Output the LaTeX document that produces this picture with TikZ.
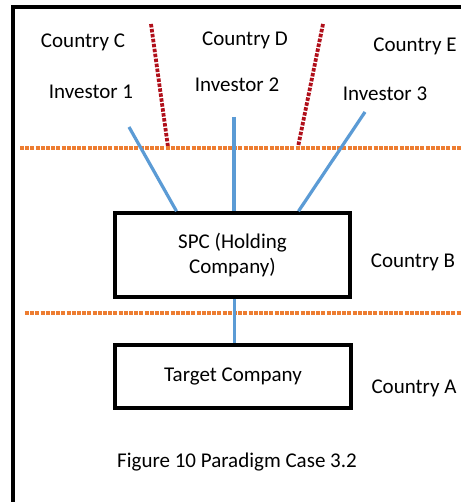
\documentclass[tikz,border=0pt]{standalone}
\usepackage{fontspec}
\setmainfont{Carlito}
\usetikzlibrary{calc}

\definecolor{invblue}{HTML}{5B9BD5}
\definecolor{bordorange}{HTML}{ED7D31}
\definecolor{bordred}{HTML}{B00F1A}

\tikzset{
	lbl/.style={font=\fontsize{21}{25}\selectfont, inner sep=0pt},
	entity/.style={draw, line width=3.6pt, font=\fontsize{21}{25}\selectfont, align=center},
	conn/.style={invblue, line width=3.2pt},
	border/.style={bordorange, line width=3.4pt, dash pattern=on 4pt off 1.2pt},
	split/.style={bordred, line width=3.8pt, dash pattern=on 3.5pt off 1.5pt}
}

\begin{document}
\begin{tikzpicture}[x=1pt,y=-1pt]
		\useasboundingbox (0,0) rectangle (461,502);
		\fill[white] (0,0) rectangle (461,502);
		
		% frame
		\draw[line width=4pt] (13,502) -- (13,7) -- (461,7);
		
		% countries above
		\node[lbl] (cC) at (83,42) {Country C};
		\node[lbl] (cD) at (245,40) {Country D};
		\node[lbl] (cE) at (415,46) {Country E};
		
		% investors
		\node[lbl] (inv1) at (91,92) {Investor 1};
		\node[lbl] (inv2) at (237,85) {Investor 2};
		\node[lbl] (inv3) at (385,94) {Investor 3};
		
		% borders between C, D and E
		\coordinate (cdtop) at (151,24);
		\coordinate (cdbot) at (168,147);
		\coordinate (detop) at (323,24);
		\coordinate (debot) at (298,147);
		\draw[split] (cdtop) -- (cdbot);
		\draw[split] (detop) -- (debot);
		
		% borders of country B
		\coordinate (bupl) at (20,148);
		\coordinate (bupr) at (461,148);
		\coordinate (blol) at (25,313);
		\coordinate (blor) at (461,313);
		\draw[border] (bupl) -- (bupr);
		\draw[border] (blol) -- (blor);
		
		% companies
		\node[entity, minimum width=235pt, minimum height=84pt] (spc) at (232.5,255) {SPC (Holding\\Company)};
		\node[lbl] (cB) at (413,262) {Country B};
		
		\node[entity, minimum width=236pt, minimum height=63pt] (target) at (233,376.5) {Target Company};
		\node[lbl] (cA) at (414,388) {Country A};
		
		% shareholdings
		\coordinate (i1a) at (129,127);
		\coordinate (i2a) at (234,117);
		\coordinate (i3a) at (365,112);
		\draw[conn] (i1a) -- ([xshift=-56pt]spc.north);
		\draw[conn] (i2a) -- ([xshift=1.5pt]spc.north);
		\draw[conn] (i3a) -- ([xshift=66pt]spc.north);
		\draw[conn] ([xshift=2pt]spc.south) -- ([xshift=1.5pt]target.north);
		
		% caption
		\node[lbl] (cap) at (237,462) {Figure 10 Paradigm Case 3.2};
	\end{tikzpicture}
\end{document}
